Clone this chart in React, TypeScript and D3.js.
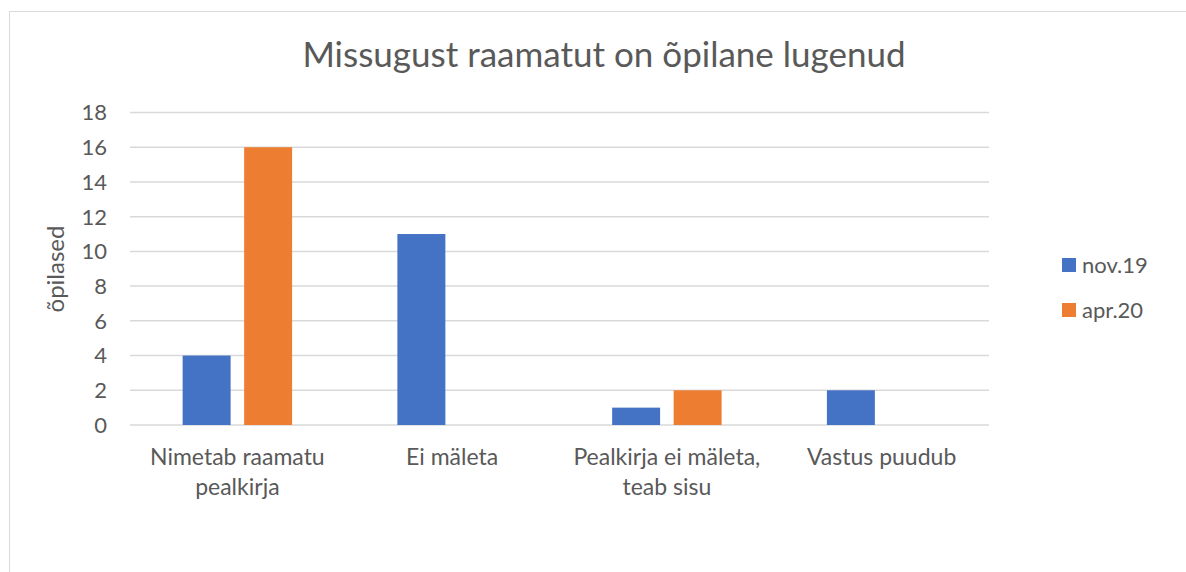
import React, { useEffect, useRef } from "react";
import * as d3 from "d3";

const categories = [
  ["Nimetab raamatu", "pealkirja"],
  ["Ei mäleta"],
  ["Pealkirja ei mäleta,", "teab sisu"],
  ["Vastus puudub"],
];
const seriesNames = ["nov.19", "apr.20"];
const nov19 = [4, 11, 1, 2];
const apr20 = [16, 0, 2, 0];
const yTicks = [0, 2, 4, 6, 8, 10, 12, 14, 16, 18];
const colors = ["#4472C4", "#ED7D31"];

const W = 1186;
const H = 572;
const font = "Lato, 'Open Sans', sans-serif";

const App = () => {
  const ref = useRef<SVGSVGElement>(null);

  useEffect(() => {
    const svg = d3.select(ref.current);
    svg.selectAll("*").remove();

    const plot = { left: 130, right: 989, top: 112.5, bottom: 425 };
    const values = [nov19, apr20];
    const keys = categories.map((c) => c.join(" "));

    // chart frame
    svg
      .append("rect")
      .attr("x", 9.5)
      .attr("y", 11.5)
      .attr("width", W)
      .attr("height", H)
      .attr("fill", "white")
      .attr("stroke", "#D9D9D9")
      .attr("stroke-width", 1);

    const x0 = d3.scaleBand().domain(keys).range([plot.left, plot.right]);
    const x1 = d3
      .scaleBand()
      .domain(seriesNames)
      .range([0, x0.bandwidth()])
      .paddingInner(0.22)
      .paddingOuter(0.856);
    const y = d3.scaleLinear().domain([0, 18]).range([plot.bottom, plot.top]);

    // gridlines
    svg
      .append("g")
      .selectAll("line")
      .data(yTicks)
      .join("line")
      .attr("x1", plot.left)
      .attr("x2", plot.right)
      .attr("y1", (d) => y(d))
      .attr("y2", (d) => y(d))
      .attr("stroke", "#D9D9D9")
      .attr("stroke-width", 1.5);

    // y tick labels
    svg
      .append("g")
      .selectAll("text")
      .data(yTicks)
      .join("text")
      .attr("x", 107)
      .attr("y", (d) => y(d))
      .attr("dy", "0.36em")
      .attr("text-anchor", "end")
      .style("font-family", font)
      .style("font-size", "22px")
      .style("fill", "#595959")
      .text((d) => d);

    // bars
    seriesNames.forEach((s, si) => {
      svg
        .append("g")
        .selectAll("rect")
        .data(values[si])
        .join("rect")
        .attr("x", (d, i) => (x0(keys[i]) as number) + (x1(s) as number))
        .attr("width", x1.bandwidth())
        .attr("y", (d) => y(d))
        .attr("height", (d) => y(0) - y(d))
        .attr("fill", colors[si]);
    });

    // category labels
    const cat = svg
      .append("g")
      .selectAll("text")
      .data(categories)
      .join("text")
      .attr("x", (d, i) => (x0(keys[i]) as number) + x0.bandwidth() / 2)
      .attr("y", 465)
      .attr("text-anchor", "middle")
      .style("font-family", font)
      .style("font-size", "23px")
      .style("fill", "#595959");
    cat
      .selectAll("tspan")
      .data((d) => d.map((line, li) => ({ line, li })))
      .join("tspan")
      .attr("x", function () {
        return (this.parentNode as SVGTextElement).getAttribute("x");
      })
      .attr("dy", (d) => (d.li === 0 ? 0 : 30))
      .text((d) => d.line);

    // title
    svg
      .append("text")
      .attr("x", 604)
      .attr("y", 67)
      .attr("text-anchor", "middle")
      .style("font-family", font)
      .style("font-size", "35px")
      .style("fill", "#595959")
      .text("Missugust raamatut on õpilane lugenud");

    // y axis title
    svg
      .append("text")
      .attr("transform", "translate(64,269) rotate(-90)")
      .attr("text-anchor", "middle")
      .style("font-family", font)
      .style("font-size", "24px")
      .style("fill", "#595959")
      .text("õpilased");

    // legend
    const legend = svg
      .append("g")
      .selectAll("g")
      .data(seriesNames)
      .join("g")
      .attr("transform", (d, i) => `translate(1062,${265 + i * 45})`);
    legend
      .append("rect")
      .attr("x", 0)
      .attr("y", -7)
      .attr("width", 14)
      .attr("height", 14)
      .attr("fill", (d, i) => colors[i]);
    legend
      .append("text")
      .attr("x", 20)
      .attr("y", 0)
      .attr("dy", "0.36em")
      .style("font-family", font)
      .style("font-size", "22px")
      .style("fill", "#595959")
      .text((d) => d);
  }, []);

  return (
    <svg
      ref={ref}
      width={W}
      height={H}
      style={{ position: "absolute", left: 0, top: 0, display: "block" }}
    />
  );
};

export default App;
